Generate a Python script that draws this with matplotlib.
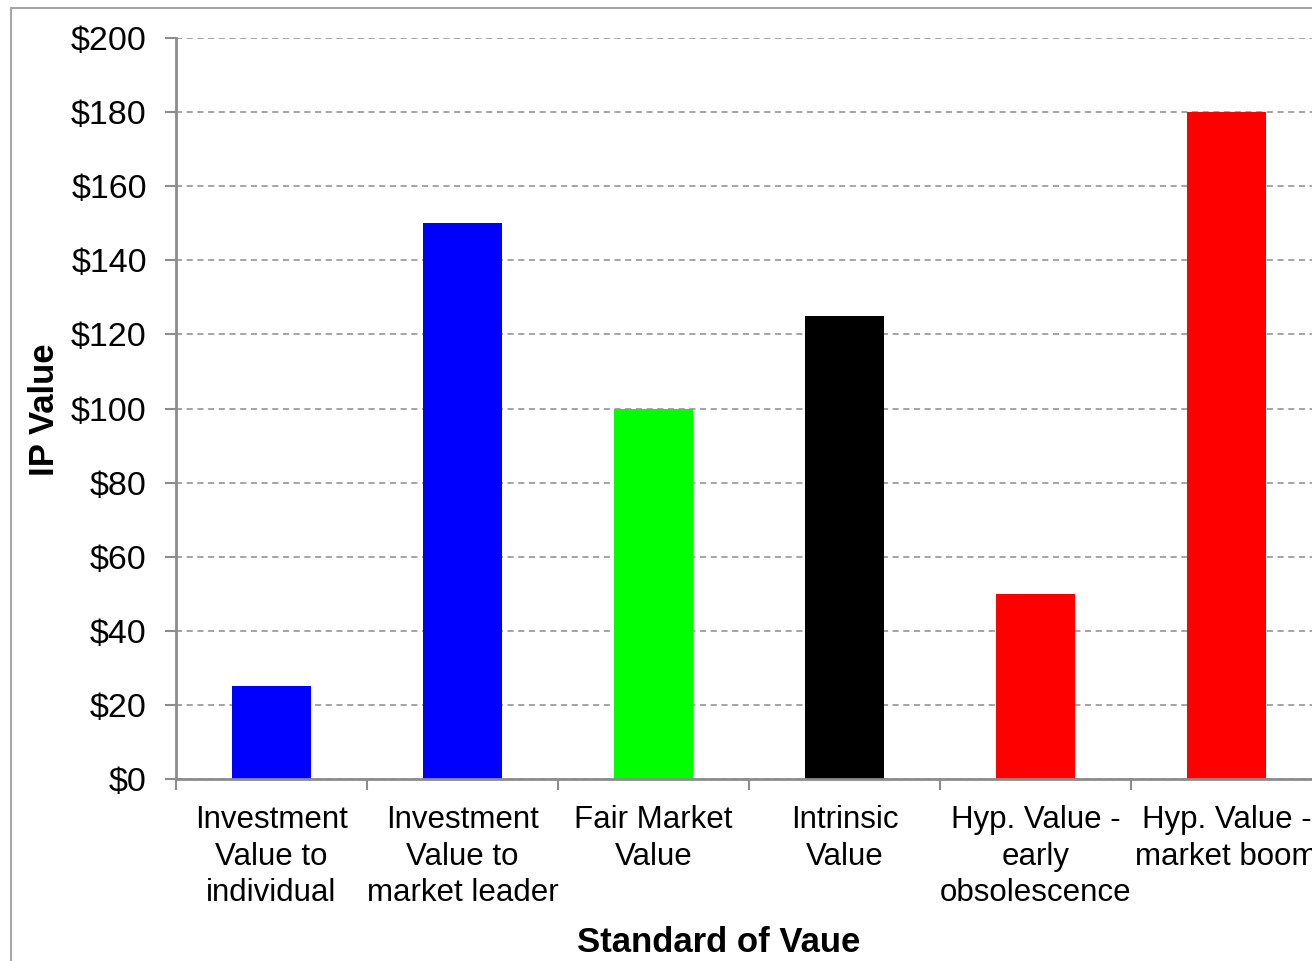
import matplotlib
matplotlib.use("Agg")
import matplotlib.pyplot as plt
from matplotlib.patches import Rectangle
from matplotlib.ticker import FuncFormatter, MultipleLocator
import numpy as np

plt.rcParams['font.family'] = ['Liberation Sans', 'DejaVu Sans']

categories = [
    "Investment\nValue to\nindividual",
    "Investment\nValue to\nmarket leader",
    "Fair Market\nValue",
    "Intrinsic\nValue",
    "Hyp. Value -\nearly\nobsolescence",
    "Hyp. Value -\nmarket boom",
]
values = [25, 150, 100, 125, 50, 180]
colors = ["#0000FF", "#0000FF", "#00FF00", "#000000", "#FF0000", "#FF0000"]

fig = plt.figure(figsize=(13.12, 9.61), dpi=100)
ax = fig.add_axes([176 / 1312, 1 - 779 / 961, (1322 - 176) / 1312, (779 - 38) / 961])

x = np.arange(len(categories))
ax.bar(x, values, width=0.41, color=colors, zorder=3)

ax.set_xlim(-0.5, len(categories) - 0.5)
ax.set_ylim(0, 200)

grid_color = "#8c8c8c"
ax.yaxis.set_major_locator(MultipleLocator(20))
ax.yaxis.set_major_formatter(FuncFormatter(lambda v, p: f"${v:.0f}"))
ax.grid(axis="y", color=grid_color, linestyle=(0, (4, 3)), linewidth=1.1, zorder=0)

# category boundaries carry the tick marks, labels sit at bar centres
ax.set_xticks(np.arange(-0.5, len(categories) + 0.5, 1.0))
ax.set_xticklabels([])
ax.set_xticks(x, minor=True)
ax.set_xticklabels(categories, minor=True, fontsize=22.5, linespacing=1.27)
ax.tick_params(axis="x", which="minor", length=0, pad=19)
ax.tick_params(axis="x", which="major", length=8, width=1.5, color=grid_color, direction="out")
ax.tick_params(axis="y", length=8, width=1.5, color=grid_color, labelsize=24.5, pad=13)

for side in ("top", "right"):
    ax.spines[side].set_visible(False)
for side in ("left", "bottom"):
    ax.spines[side].set_color(grid_color)
    ax.spines[side].set_linewidth(2)
ax.spines["bottom"].set_zorder(4)

fig.text(719 / 1312, 1 - 943 / 961, "Standard of Vaue", ha="center", va="center",
         fontsize=25, fontweight="bold")
fig.text(45 / 1312, 1 - 410 / 961, "IP Value", ha="center", va="center",
         rotation=90, fontsize=25, fontweight="bold")

# outer frame of the chart area
fig.patches.append(Rectangle((10.5 / 1312, -0.1), 1.2, (961 - 8) / 961 + 0.1,
                             transform=fig.transFigure, fill=False,
                             edgecolor="#a6a6a6", linewidth=1.5))

fig.savefig("out.png", dpi=100)
